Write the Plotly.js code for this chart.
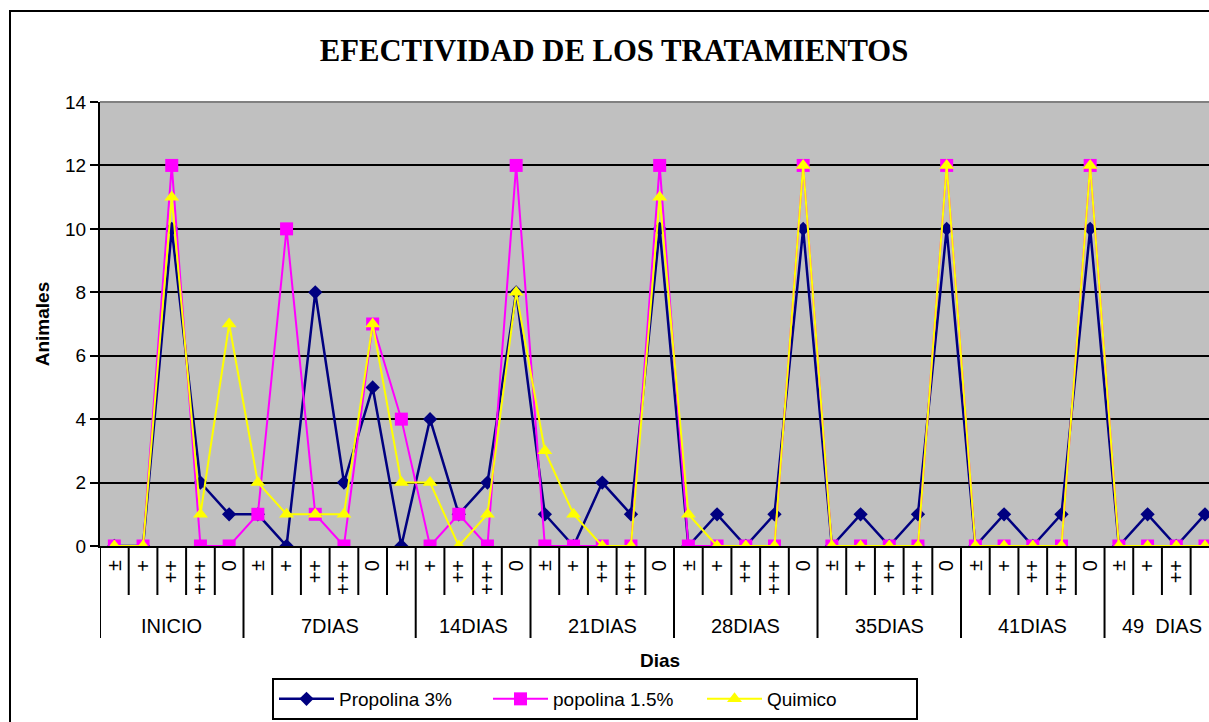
<!DOCTYPE html>
<html>
<head>
<meta charset="utf-8">
<script src="https://cdn.plot.ly/plotly-3.0.1.min.js"></script>
<style>
  html, body { margin: 0; padding: 0; background: #ffffff; overflow: hidden; }
  #chart { width: 1209px; height: 722px; }
</style>
</head>
<body>
<div id="chart"></div>
<script>
// ---- data ----
const categories = [
  '±','+','++','+++','0',
  '±','+','++','+++','0','±',
  '+','++','+++','0',
  '±','+','++','+++','0',
  '±','+','++','+++','0',
  '±','+','++','+++','0',
  '±','+','++','+++','0',
  '±','+','++','+++'
];
const groupNames = ['INICIO','7DIAS','14DIAS','21DIAS','28DIAS','35DIAS','41DIAS','49  DIAS'];
const groupSizes = [5, 6, 4, 5, 5, 5, 5, 4];

const propolina3 = [0,0,10,2,1, 1,0,8,2,5,0, 4,1,2,8, 1,0,2,1,10, 0,1,0,1,10, 0,1,0,1,10, 0,1,0,1,10, 0,1,0,1];
const popolina15 = [0,0,12,0,0, 1,10,1,0,7,4, 0,1,0,12, 0,0,0,0,12, 0,0,0,0,12, 0,0,0,0,12, 0,0,0,0,12, 0,0,0,0];
const quimico    = [0,0,11,1,7, 2,1,1,1,7,2, 2,0,1,8, 3,1,0,0,11, 1,0,0,0,12, 0,0,0,0,12, 0,0,0,0,12, 0,0,0,0];

const seriesNames = ['Propolina 3%', 'popolina 1.5%', 'Quimico'];

// ---- build ----
const idx = categories.map((_, i) => i);
const FONT = 'Liberation Sans, Arial, sans-serif';

const traces = [
  { x: idx, y: propolina3, name: seriesNames[0], type: 'scatter', mode: 'lines+markers',
    line: { color: '#000080', width: 2.5 }, marker: { symbol: 'diamond', size: 11, color: '#000080' } },
  { x: idx, y: popolina15, name: seriesNames[1], type: 'scatter', mode: 'lines+markers',
    line: { color: '#FF00FF', width: 2 }, marker: { symbol: 'square', size: 13, color: '#FF00FF' } },
  { x: idx, y: quimico, name: seriesNames[2], type: 'scatter', mode: 'lines+markers',
    line: { color: '#FFFF00', width: 2 }, marker: { symbol: 'triangle-up', size: 13, color: '#FFFF00' } }
];

const plotH = 444, plotW = 1109;
const shapes = [];
const annotations = [];

// group boundaries
let start = 0;
const boundaries = [-0.5];
groupNames.forEach((g, gi) => {
  const n = groupSizes[gi];
  annotations.push({
    x: start + (n - 1) / 2, y: -80 / plotH, xref: 'x', yref: 'paper',
    text: g, showarrow: false, xanchor: 'center', yanchor: 'middle',
    font: { family: FONT, size: 20, color: '#000' }
  });
  start += n;
  boundaries.push(start - 0.5);
});
// small ticks between categories
for (let i = 0; i < categories.length; i++) {
  const xv = i - 0.5;
  const isGroup = boundaries.indexOf(xv) >= 0;
  shapes.push({
    type: 'line', xref: 'x', yref: 'paper', x0: xv, x1: xv, y0: 0,
    y1: isGroup ? -92 / plotH : -49 / plotH,
    line: { color: '#000', width: 2 }
  });
}
// plot top border (grey)
shapes.push({ type: 'line', xref: 'paper', yref: 'paper', x0: 0, x1: 1, y0: 1, y1: 1,
  line: { color: '#808080', width: 2 }, layer: 'above' });
// chart outer border
shapes.push({ type: 'rect', xref: 'paper', yref: 'paper',
  x0: (10 - 100) / plotW, x1: 1.2, y0: -1, y1: 1 + (102 - 11) / plotH,
  line: { color: '#000', width: 2 }, fillcolor: 'rgba(0,0,0,0)' });

// x-axis title
annotations.push({
  x: (660 - 100) / plotW, y: -114 / plotH, xref: 'paper', yref: 'paper',
  text: '<b>Dias</b>', showarrow: false, xanchor: 'center', yanchor: 'middle',
  font: { family: FONT, size: 19, color: '#000' }
});

const layout = {
  width: 1209, height: 722,
  margin: { l: 100, r: 0, t: 102, b: 176, pad: 0 },
  paper_bgcolor: '#ffffff',
  plot_bgcolor: '#C0C0C0',
  title: {
    text: '<b>EFECTIVIDAD DE LOS TRATAMIENTOS</b>',
    font: { family: 'Liberation Serif, Times New Roman, serif', size: 30.7, color: '#000' },
    x: 614 / 1209, xanchor: 'center', xref: 'container',
    y: 1 - 50 / 722, yanchor: 'middle', yref: 'container'
  },
  xaxis: {
    type: 'linear', range: [-0.5, 38.14],
    tickmode: 'array', tickvals: idx, ticktext: categories, tickangle: -90,
    tickfont: { family: FONT, size: 20, color: '#000' },
    ticks: '', ticklabelstandoff: 4,
    showgrid: false, zeroline: false,
    showline: true, linecolor: '#000', linewidth: 2
  },
  yaxis: {
    range: [0, 14], dtick: 2, tick0: 0,
    tickfont: { family: FONT, size: 19, color: '#000' },
    ticks: 'outside', ticklen: 8, tickcolor: '#000', tickwidth: 2,
    showgrid: true, gridcolor: '#000', gridwidth: 2,
    zeroline: false, showline: true, linecolor: '#000', linewidth: 2,
    title: { text: '<b>Animales</b>', font: { family: FONT, size: 19, color: '#000' }, standoff: 10 }
  },
  showlegend: true,
  legend: {
    orientation: 'h', x: (272 - 100) / plotW, xanchor: 'left',
    y: -132 / plotH, yanchor: 'top',
    bgcolor: '#ffffff', bordercolor: '#000', borderwidth: 2,
    font: { family: FONT, size: 19, color: '#000' },
    itemwidth: 55, entrywidth: 144, traceorder: 'normal'
  },
  shapes: shapes,
  annotations: annotations
};

Plotly.newPlot('chart', traces, layout, { displayModeBar: false, staticPlot: true });
</script>
</body>
</html>
